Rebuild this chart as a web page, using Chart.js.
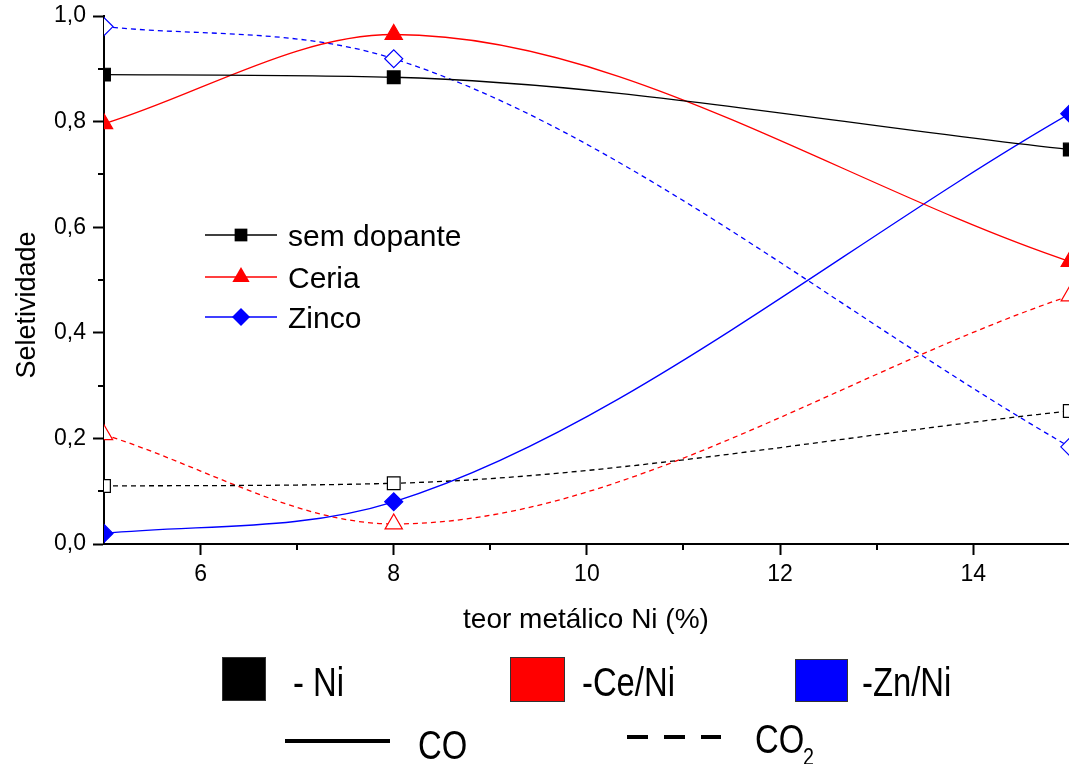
<!DOCTYPE html>
<html>
<head>
<meta charset="utf-8">
<title>Seletividade</title>
<script src="https://cdn.jsdelivr.net/npm/chart.js@4.4.1/dist/chart.umd.min.js"></script>
<style>
  html, body { margin: 0; padding: 0; background: #fff; overflow: hidden; }
  #wrap { width: 1200px; height: 764px; }
  canvas { display: block; }
</style>
</head>
<body>
<div id="wrap"><canvas id="chart" width="1071" height="764"></canvas></div>
<script>
// teor metálico de Ni (%)
const teorNi = [5, 8, 15];

// seletividade a CO (linhas cheias)
const coSemDopante = [0.889, 0.884, 0.747];
const coCeria = [0.796, 0.965, 0.535];
const coZinco = [0.02, 0.08, 0.815];

// seletividade a CO2 (linhas tracejadas)
const co2SemDopante = [0.11, 0.115, 0.252];
const co2Ceria = [0.207, 0.038, 0.47];
const co2Zinco = [0.98, 0.919, 0.184];

const legendaInterna = ['sem dopante', 'Ceria', 'Zinco'];
const legendaCatalisador = ['- Ni', '-Ce/Ni', '-Zn/Ni'];

const FONT = "'Liberation Sans', Arial, sans-serif";

function pts(values) {
    return teorNi.map((x, i) => ({ x: x, y: values[i] }));
}

function serie(values, color, style, radius, filled, dashed) {
    return {
        data: pts(values),
        borderColor: color,
        borderWidth: 1.3,
        borderDash: dashed ? [5, 4] : [],
        pointStyle: style,
        pointRadius: radius,
        pointBackgroundColor: filled ? color : '#fff',
        pointBorderColor: color,
        pointBorderWidth: 1.2,
        cubicInterpolationMode: 'monotone',
        fill: false,
        clip: 0
    };
}

const isMajorX = v => Math.round(v) % 2 === 0;
const isMajorY = v => Math.round(v * 10) % 2 === 0;

// marcador simples para as legendas
function marker(ctx, style, x, y, r, color) {
    ctx.save();
    ctx.fillStyle = color;
    ctx.beginPath();
    if (style === 'rect') {
        const s = r * Math.SQRT1_2;
        ctx.rect(x - s, y - s, 2 * s, 2 * s);
    } else if (style === 'triangle') {
        ctx.moveTo(x, y - r);
        ctx.lineTo(x + r * 0.866, y + r / 2);
        ctx.lineTo(x - r * 0.866, y + r / 2);
        ctx.closePath();
    } else {
        ctx.moveTo(x, y - r);
        ctx.lineTo(x + r, y);
        ctx.lineTo(x, y + r);
        ctx.lineTo(x - r, y);
        ctx.closePath();
    }
    ctx.fill();
    ctx.restore();
}

function narrowText(ctx, text, x, y, size) {
    ctx.save();
    ctx.translate(x, y);
    ctx.scale(0.82, 1);
    ctx.font = size + 'px ' + FONT;
    ctx.textAlign = 'left';
    ctx.textBaseline = 'alphabetic';
    ctx.fillText(text, 0, 0);
    ctx.restore();
}

const extras = {
    id: 'extras',
    afterDraw(chart) {
        const ctx = chart.ctx;
        const xs = chart.scales.x;
        const ys = chart.scales.y;
        const area = chart.chartArea;

        // ticks menores
        ctx.save();
        ctx.strokeStyle = '#000';
        ctx.lineWidth = 2;
        ctx.beginPath();
        xs.ticks.forEach(t => {
            if (isMajorX(t.value) || t.value === xs.min) return;
            const px = Math.round(xs.getPixelForValue(t.value));
            ctx.moveTo(px, area.bottom);
            ctx.lineTo(px, area.bottom + 6);
        });
        ys.ticks.forEach(t => {
            if (isMajorY(t.value)) return;
            const py = Math.round(ys.getPixelForValue(t.value));
            ctx.moveTo(area.left, py);
            ctx.lineTo(area.left - 6, py);
        });
        ctx.stroke();
        ctx.restore();

        // titulos dos eixos
        ctx.save();
        ctx.fillStyle = '#000';
        ctx.font = '28px ' + FONT;
        ctx.textAlign = 'center';
        ctx.textBaseline = 'alphabetic';
        ctx.fillText('teor metálico Ni (%)', 586, 628);
        ctx.font = '27px ' + FONT;
        ctx.translate(35, 305);
        ctx.rotate(-Math.PI / 2);
        ctx.fillText('Seletividade', 0, 0);
        ctx.restore();

        // legenda dentro do grafico
        const ds = chart.data.datasets;
        const rows = [235, 277, 317];
        ctx.save();
        for (let i = 0; i < 3; i++) {
            const d = ds[i];
            ctx.strokeStyle = d.borderColor;
            ctx.lineWidth = 1.3;
            ctx.beginPath();
            ctx.moveTo(205, rows[i]);
            ctx.lineTo(277, rows[i]);
            ctx.stroke();
            marker(ctx, d.pointStyle, 241, rows[i], d.pointRadius, d.borderColor);
            ctx.fillStyle = '#000';
            ctx.font = '30px ' + FONT;
            ctx.textAlign = 'left';
            ctx.textBaseline = 'alphabetic';
            ctx.fillText(legendaInterna[i], 288, rows[i] + 11);
        }
        ctx.restore();

        // legenda inferior
        const boxes = [[222, 657, 44, 44], [510, 657, 55, 45], [795, 659, 53, 43]];
        const textX = [293, 582, 862];
        ctx.save();
        for (let i = 0; i < 3; i++) {
            const b = boxes[i];
            ctx.fillStyle = ds[i].borderColor;
            ctx.fillRect(b[0], b[1], b[2], b[3]);
            ctx.strokeStyle = '#333';
            ctx.lineWidth = 1;
            ctx.strokeRect(b[0] + 0.5, b[1] + 0.5, b[2] - 1, b[3] - 1);
            ctx.fillStyle = '#000';
            narrowText(ctx, legendaCatalisador[i], textX[i], 696, 40);
        }
        ctx.strokeStyle = '#000';
        ctx.lineWidth = 4;
        ctx.beginPath();
        ctx.moveTo(285, 741);
        ctx.lineTo(390, 741);
        ctx.stroke();
        ctx.setLineDash([21, 16]);
        ctx.beginPath();
        ctx.moveTo(627, 737);
        ctx.lineTo(721, 737);
        ctx.stroke();
        ctx.setLineDash([]);
        ctx.fillStyle = '#000';
        narrowText(ctx, 'CO', 418, 759, 40);
        narrowText(ctx, 'CO', 755, 753, 40);
        narrowText(ctx, '2', 803, 765, 24);
        ctx.restore();
    }
};

function config() {
    return {
        type: 'line',
        data: {
            datasets: [
                serie(coSemDopante, '#000000', 'rect', 9, true, false),
                serie(coCeria, '#ff0000', 'triangle', 10, true, false),
                serie(coZinco, '#0000ff', 'rectRot', 9, true, false),
                serie(co2SemDopante, '#000000', 'rect', 9, false, true),
                serie(co2Ceria, '#ff0000', 'triangle', 10, false, true),
                serie(co2Zinco, '#0000ff', 'rectRot', 9, false, true)
            ]
        },
        options: {
            responsive: false,
            maintainAspectRatio: false,
            animation: false,
            devicePixelRatio: 1,
            layout: { padding: { top: 16, right: 1, left: 0, bottom: 0 } },
            plugins: {
                legend: { display: false },
                tooltip: { enabled: false }
            },
            scales: {
                x: {
                    type: 'linear',
                    min: 5,
                    max: 15,
                    ticks: {
                        stepSize: 1,
                        autoSkip: false,
                        maxRotation: 0,
                        padding: 6,
                        color: '#000',
                        font: { family: FONT, size: 23 },
                        callback: v => isMajorX(v) ? String(Math.round(v)) : ''
                    },
                    grid: {
                        drawOnChartArea: false,
                        drawTicks: true,
                        tickLength: 11,
                        tickWidth: 2,
                        tickColor: c => (c.tick && isMajorX(c.tick.value)) ? '#000' : 'rgba(0,0,0,0)'
                    },
                    border: { display: true, color: '#000', width: 2 },
                    afterFit: s => {
                        s.height = 220;
                        s.paddingLeft = 0;
                        s.paddingRight = 0;
                    }
                },
                y: {
                    type: 'linear',
                    min: 0,
                    max: 1,
                    ticks: {
                        stepSize: 0.1,
                        autoSkip: false,
                        padding: 7,
                        color: '#000',
                        font: { family: FONT, size: 23 },
                        callback: v => isMajorY(v) ? v.toFixed(1).replace('.', ',') : ''
                    },
                    grid: {
                        drawOnChartArea: false,
                        drawTicks: true,
                        tickLength: 11,
                        tickWidth: 2,
                        tickColor: c => (c.tick && isMajorY(c.tick.value)) ? '#000' : 'rgba(0,0,0,0)'
                    },
                    border: { display: true, color: '#000', width: 2 },
                    afterFit: s => {
                        s.width = 104;
                        s.paddingTop = 0;
                        s.paddingBottom = 0;
                    }
                }
            }
        },
        plugins: [extras]
    };
}

const canvas = document.getElementById('chart');

function build(width) {
    canvas.width = width;
    canvas.height = 764;
    return new Chart(canvas, config());
}

// a area do grafico deve ir ate x = 1070 (os pontos em 15 ficam cortados na borda)
let chart = build(1071);
const falta = Math.round(1070 - chart.chartArea.right);
if (falta > 0) {
    chart.destroy();
    chart = build(1071 + falta);
}
</script>
</body>
</html>
